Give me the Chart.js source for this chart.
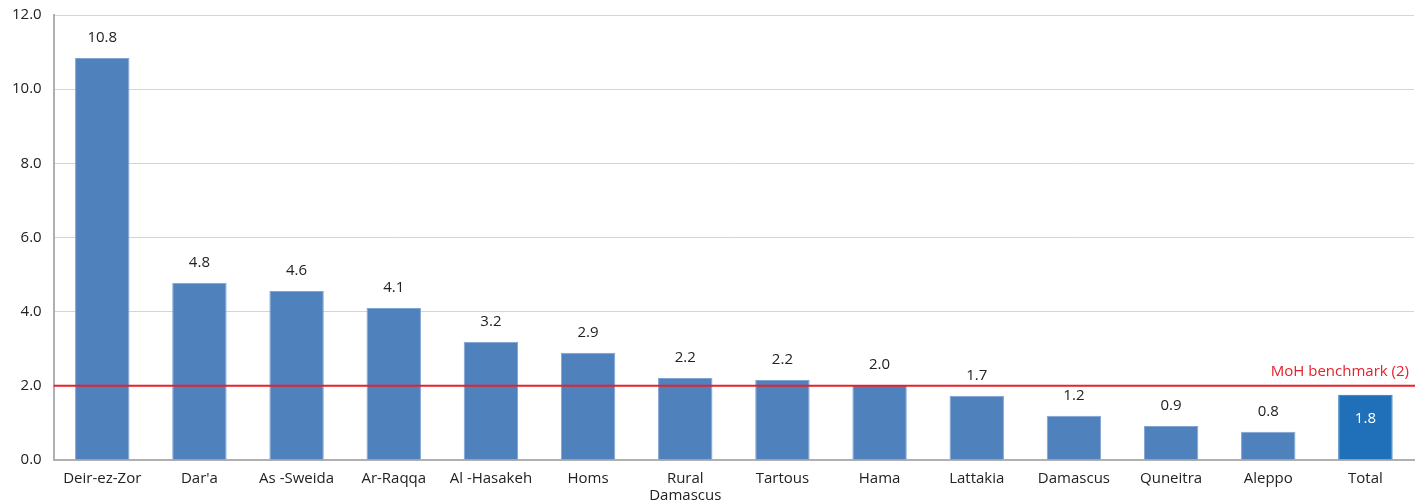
<!DOCTYPE html>
<html><head><meta charset="utf-8">
<script src="https://cdn.jsdelivr.net/npm/chart.js@4/dist/chart.umd.min.js"></script>
<style>html,body{margin:0;padding:0;background:#fff}#wrap{width:1428px;height:504px}</style>
</head><body><div id="wrap"><canvas id="c"></canvas></div>
<script>
const categories = ['Deir-ez-Zor', "Dar'a", 'As -Sweida', 'Ar-Raqqa', 'Al -Hasakeh', 'Homs', ['Rural', 'Damascus'], 'Tartous', 'Hama', 'Lattakia', 'Damascus', 'Quneitra', 'Aleppo', 'Total'];
const values = [10.84, 4.78, 4.56, 4.10, 3.19, 2.89, 2.21, 2.16, 2.02, 1.73, 1.19, 0.92, 0.76, 1.76];
const valueLabels = ['10.8', '4.8', '4.6', '4.1', '3.2', '2.9', '2.2', '2.2', '2.0', '1.7', '1.2', '0.9', '0.8', '1.8'];
const benchmark = 2;
const benchmarkLabel = 'MoH benchmark (2)';
const yTicks = [0, 2, 4, 6, 8, 10, 12];

const FONT = '"Open Sans", "DejaVu Sans", sans-serif';
const barColors = values.map((v, i) => i === values.length - 1 ? '#1F70B8' : '#4F81BD');

const overlay = {
  id: 'overlay',
  afterDatasetsDraw(chart) {
    const ctx = chart.ctx;
    const y = chart.scales.y;
    const ca = chart.chartArea;
    const yb = y.getPixelForValue(benchmark);
    ctx.save();
    ctx.strokeStyle = '#E8202A';
    ctx.lineWidth = 2;
    ctx.beginPath(); ctx.moveTo(ca.left, yb); ctx.lineTo(ca.right + 1, yb); ctx.stroke();
    ctx.fillStyle = '#E8202A';
    ctx.font = '15px ' + FONT;
    ctx.textAlign = 'right'; ctx.textBaseline = 'middle';
    ctx.fillText(benchmarkLabel, ca.right - 5, yb - 14);
    const meta = chart.getDatasetMeta(0);
    ctx.font = '15px ' + FONT;
    ctx.textAlign = 'center';
    ctx.textBaseline = 'middle';
    meta.data.forEach((bar, i) => {
      if (i === values.length - 1) {
        ctx.fillStyle = '#ffffff';
        ctx.fillText(valueLabels[i], bar.x, bar.y + 24);
      } else {
        ctx.fillStyle = '#222222';
        ctx.fillText(valueLabels[i], bar.x, bar.y - 20);
      }
    });
    ctx.restore();
  }
};

new Chart(document.getElementById('c'), {
  type: 'bar',
  data: {
    labels: categories,
    datasets: [{
      data: values,
      backgroundColor: barColors,
      borderColor: values.map((v, i) => i === values.length - 1 ? '#1F70B8' : '#7FA3D3'),
      borderWidth: {left: 1, right: 1, top: 1, bottom: 0},
      barPercentage: 0.56,
      categoryPercentage: 1.0
    }]
  },
  options: {
    responsive: true,
    maintainAspectRatio: false,
    animation: false,
    layout: {padding: {top: 0, right: 14, left: 0, bottom: 0}},
    plugins: {legend: {display: false}, tooltip: {enabled: false}},
    scales: {
      x: {
        afterFit(axis) { axis.height = 44; },
        grid: {display: false, drawTicks: false},
        border: {color: '#B0B0B0', width: 2},
        ticks: {color: '#222', font: {family: FONT, size: 15, lineHeight: 1.15}, padding: 10, maxRotation: 0, autoSkip: false}
      },
      y: {
        min: 0, max: 12,
        afterBuildTicks(axis) { axis.ticks = yTicks.map(v => ({value: v})); },
        afterFit(axis) { axis.paddingTop = 15; },
        grid: {color: '#D4D4D4', lineWidth: 1, drawTicks: false},
        border: {color: '#B0B0B0', width: 2},
        ticks: {color: '#222', font: {family: FONT, size: 15, lineHeight: 1.0}, padding: 12, callback: v => Number(v).toFixed(1)}
      }
    }
  },
  plugins: [overlay]
});
</script></body></html>
